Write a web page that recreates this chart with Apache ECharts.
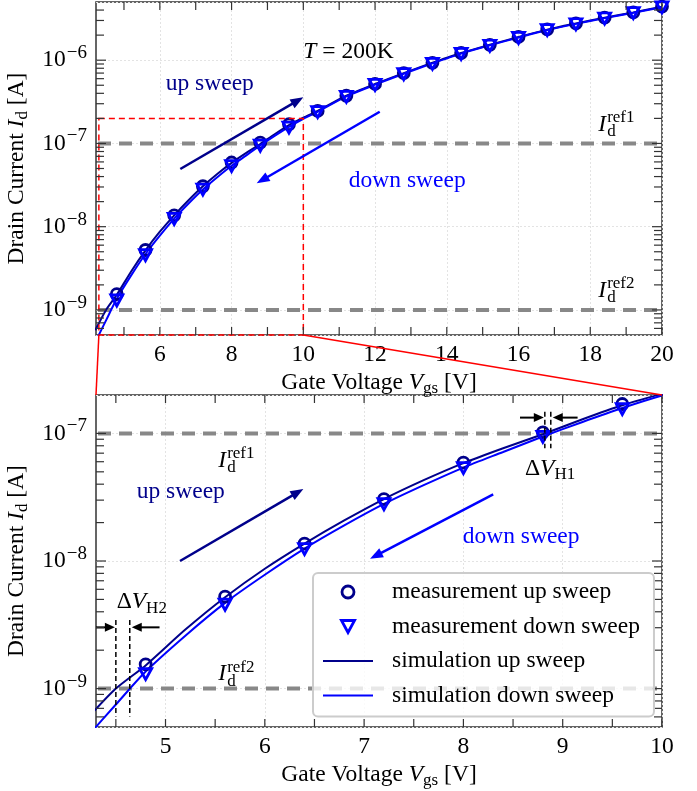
<!DOCTYPE html>
<html>
<head>
<meta charset="utf-8">
<script src="https://cdn.jsdelivr.net/npm/echarts@6/dist/echarts.min.js"></script>
<style>
  html, body { margin: 0; padding: 0; background: #ffffff; }
  #chart { width: 697px; height: 791px; }
</style>
</head>
<body>
<div id="chart"></div>
<script>
// Transfer characteristics at T = 200 K: up / down gate sweeps, measured and simulated.

// ---- data -------------------------------------------------------------
const vgsMeas = [4.8, 5.6, 6.4, 7.2, 8.0, 8.8, 9.6, 10.4, 11.2, 12.0, 12.8, 13.6, 14.4, 15.2, 16.0, 16.8, 17.6, 18.4, 19.2, 20.0];
const idMeasUp = [1.55e-9, 5.25e-9, 1.37e-8, 3.06e-8, 5.9e-8, 1.02e-7, 1.7e-7, 2.46e-7, 3.74e-7, 5.18e-7, 7.0e-7, 9.3e-7, 1.22e-6, 1.53e-6, 1.9e-6, 2.35e-6, 2.76e-6, 3.24e-6, 3.75e-6, 4.4e-6];
const idMeasDown = [1.3e-9, 4.55e-9, 1.24e-8, 2.79e-8, 5.35e-8, 9.4e-8, 1.55e-7, 2.38e-7, 3.63e-7, 5.05e-7, 6.8e-7, 9.05e-7, 1.19e-6, 1.49e-6, 1.85e-6, 2.3e-6, 2.7e-6, 3.17e-6, 3.68e-6, 4.32e-6];

const vgsSim = [4.2, 4.5, 4.8, 5.2, 5.6, 6.0, 6.4, 6.8, 7.2, 7.6, 8.0, 8.4, 8.8, 9.2, 9.6, 10.0, 10.4, 11.2, 12.0, 12.8, 13.6, 14.4, 15.2, 16.0, 16.8, 17.6, 18.4, 19.2, 20.0];
const idSimUp = [5.7e-10, 1.0e-9, 1.52e-9, 2.9e-9, 5.2e-9, 8.7e-9, 1.37e-8, 2.08e-8, 3.06e-8, 4.3e-8, 5.85e-8, 7.65e-8, 9.85e-8, 1.29e-7, 1.66e-7, 2.04e-7, 2.46e-7, 3.74e-7, 5.18e-7, 7.0e-7, 9.3e-7, 1.22e-6, 1.53e-6, 1.9e-6, 2.33e-6, 2.76e-6, 3.24e-6, 3.75e-6, 4.38e-6];
const idSimDown = [4.1e-10, 7.5e-10, 1.36e-9, 2.6e-9, 4.7e-9, 7.8e-9, 1.25e-8, 1.9e-8, 2.8e-8, 3.93e-8, 5.4e-8, 7.15e-8, 9.46e-8, 1.23e-7, 1.58e-7, 1.98e-7, 2.4e-7, 3.67e-7, 5.08e-7, 6.88e-7, 9.15e-7, 1.2e-6, 1.51e-6, 1.87e-6, 2.3e-6, 2.73e-6, 3.2e-6, 3.71e-6, 4.33e-6];

// reference current levels I_d^ref1, I_d^ref2
const refLevels = [1e-7, 1e-9];

// zoom window shown in the lower panel
const zoomVgs = [4.3, 10];
const zoomId = [5e-10, 2e-7];

// threshold shifts read at the two reference levels
const dVH1 = [8.82, 8.88];
const dVH2 = [4.50, 4.64];

// tick values
const xLabelsTop = [6, 8, 10, 12, 14, 16, 18, 20];
const xMinorTop = [5, 7, 9, 11, 13, 15, 17, 19];
const xLabelsBottom = [5, 6, 7, 8, 9, 10];
const xMinorBottom = [4.5, 5.5, 6.5, 7.5, 8.5, 9.5];
const yDecades = [1e-9, 1e-8, 1e-7, 1e-6];

const seriesNames = ['measurement up sweep', 'measurement down sweep', 'simulation up sweep', 'simulation down sweep'];

// ---- style --------------------------------------------------------------
const NAVY = '#00008b';
const BLUE = '#0000ff';
const GREY = '#888888';
const RED = '#ff0000';
const FRAME = '#333333';
const SERIF = '"Liberation Serif", "Times New Roman", serif';
const FS = 23.5;
const FS_S = 17;
const FS_SUP = 19;
const TRI_DOWN = 'path://M0,0 L12,0 L6,11 Z';

const X_TOP = [4.22, 20];
const Y_TOP = [5e-10, 5e-6];
const X_BOT = zoomVgs;
const Y_BOT = zoomId;

function zip(xs, ys) { return xs.map((x, i) => [x, ys[i]]); }

function minorLog(lo, hi) {
  const out = [];
  for (let e = Math.floor(Math.log10(lo)); e <= Math.ceil(Math.log10(hi)); e++) {
    for (let m = 2; m <= 9; m++) {
      const v = m * Math.pow(10, e);
      if (v > lo * 1.0001 && v < hi * 0.9999) out.push(v);
    }
  }
  return out;
}

const richBase = { fontFamily: SERIF, fontSize: FS, color: '#000' };
const richSet = {
  b: { fontFamily: SERIF, fontSize: FS, lineHeight: FS, color: '#000' },
  i: { fontFamily: SERIF, fontSize: FS, lineHeight: FS, fontStyle: 'italic', color: '#000' },
  sup: { fontFamily: SERIF, fontSize: FS_SUP, lineHeight: FS_SUP, padding: [0, 0, 14, 1], color: '#000' },
  sub: { fontFamily: SERIF, fontSize: FS_S, lineHeight: FS_S, padding: [12, 0, 0, 0], color: '#000' }
};

function yLabel(v) {
  const e = Math.log10(v);
  if (Math.abs(e - Math.round(e)) > 1e-6) return '';
  return '{b|10}{sup|\u2212' + Math.abs(Math.round(e)) + '}';
}

function xAxisCfg(gridIndex, range, labels) {
  return {
    type: 'value', gridIndex, min: range[0], max: range[1],
    axisLine: { show: false },
    axisTick: { show: false, customValues: labels },
    axisLabel: { customValues: labels, margin: 8, fontFamily: SERIF, fontSize: FS, color: '#000',
      formatter: v => (Math.abs(v - Math.round(v)) < 1e-6 ? String(Math.round(v)) : '') },
    splitLine: { show: true, lineStyle: { color: '#e3e3e3', width: 1, type: [2, 2] } },
    name: 'Gate Voltage {i|V}{sub|gs} [V]', nameLocation: 'middle', nameGap: 30,
    nameTextStyle: Object.assign({ rich: richSet }, richBase)
  };
}

function yAxisCfg(gridIndex, range) {
  return {
    type: 'log', logBase: 10, gridIndex, min: range[0], max: range[1],
    axisLine: { show: false },
    axisTick: { show: false },
    axisLabel: { margin: 9, formatter: yLabel, rich: richSet },
    splitLine: { show: true, lineStyle: { color: '#e3e3e3', width: 1, type: [2, 2] } },
    minorTick: { show: false },
    name: 'Drain Current {i|I}{sub|d} [A]', nameLocation: 'middle', nameGap: 52,
    nameTextStyle: Object.assign({ rich: richSet }, richBase)
  };
}

// ticks on all four sides of a panel, pointing inward
function tickSeries(g, xr, yr, xMajor, xMinor) {
  const data = [];
  xMajor.concat(xMinor).forEach(v => data.push([v, yr[0], 0, 8]));
  yDecades.filter(v => v > yr[0] && v < yr[1]).forEach(v => data.push([xr[0], v, 1, 10]));
  minorLog(yr[0], yr[1]).forEach(v => data.push([xr[0], v, 1, 8]));
  return {
    type: 'custom', xAxisIndex: g, yAxisIndex: g, clip: false, silent: true, z: 8,
    encode: { x: 0, y: 1 }, data,
    renderItem(params, api) {
      const cs = params.coordSys;
      const p = api.coord([api.value(0), api.value(1)]);
      const len = api.value(3);
      const st = { stroke: FRAME, lineWidth: 1.2 };
      if (api.value(2) === 0) {
        return { type: 'group', children: [
          { type: 'line', shape: { x1: p[0], y1: cs.y + cs.height, x2: p[0], y2: cs.y + cs.height - len }, style: st },
          { type: 'line', shape: { x1: p[0], y1: cs.y, x2: p[0], y2: cs.y + len }, style: st }
        ] };
      }
      return { type: 'group', children: [
        { type: 'line', shape: { x1: cs.x, y1: p[1], x2: cs.x + len, y2: p[1] }, style: st },
        { type: 'line', shape: { x1: cs.x + cs.width, y1: p[1], x2: cs.x + cs.width - len, y2: p[1] }, style: st }
      ] };
    }
  };
}

// dashed grey reference levels
function refSeries(g, xr) {
  return {
    type: 'custom', xAxisIndex: g, yAxisIndex: g, clip: false, silent: true, z: 1,
    encode: { x: 0, y: 1 },
    data: refLevels.map(v => [xr[0], v, xr[1]]),
    renderItem(params, api) {
      const a = api.coord([api.value(0), api.value(1)]);
      const b = api.coord([api.value(2), api.value(1)]);
      return { type: 'line', shape: { x1: a[0] + 2, y1: a[1], x2: b[0], y2: b[1] },
        style: { stroke: GREY, lineWidth: 4, lineDash: [13, 8] } };
    }
  };
}

function arrowEl(p0, p1, color, width, headLen, headHalf) {
  const dx = p1[0] - p0[0], dy = p1[1] - p0[1];
  const L = Math.hypot(dx, dy), ux = dx / L, uy = dy / L;
  const bx = p1[0] - ux * headLen, by = p1[1] - uy * headLen;
  return { type: 'group', children: [
    { type: 'line', shape: { x1: p0[0], y1: p0[1], x2: bx + ux * 2, y2: by + uy * 2 }, style: { stroke: color, lineWidth: width } },
    { type: 'polygon', shape: { points: [[p1[0], p1[1]], [bx - uy * headHalf, by + ux * headHalf], [bx + uy * headHalf, by - ux * headHalf]] },
      style: { fill: color } }
  ] };
}

// arrows: [x0, y0, x1, y1] in data units, with a style per arrow
function arrowSeries(g, items, styles) {
  return {
    type: 'custom', xAxisIndex: g, yAxisIndex: g, clip: false, silent: true, z: 6,
    encode: { x: [0, 2], y: [1, 3] }, data: items,
    renderItem(params, api) {
      const s = styles[params.dataIndex];
      const a = api.coord([api.value(0), api.value(1)]);
      const b = api.coord([api.value(2), api.value(3)]);
      return arrowEl(a, b, s.color, s.width, s.head, s.half);
    }
  };
}

// black dashed vertical markers: [x, y0, y1]
function vDashSeries(g, items) {
  return {
    type: 'custom', xAxisIndex: g, yAxisIndex: g, clip: false, silent: true, z: 6,
    encode: { x: 0, y: [1, 2] }, data: items,
    renderItem(params, api) {
      const a = api.coord([api.value(0), api.value(1)]);
      const b = api.coord([api.value(0), api.value(2)]);
      return { type: 'line', shape: { x1: a[0], y1: a[1], x2: b[0], y2: b[1] },
        style: { stroke: '#000', lineWidth: 1.5, lineDash: [5, 3] } };
    }
  };
}

// text labels anchored at [x, y] (left edge, vertical middle of the main glyphs)
function textSeries(g, items, texts) {
  return {
    type: 'custom', xAxisIndex: g, yAxisIndex: g, clip: false, silent: true, z: 7,
    encode: { x: 0, y: 1 }, data: items,
    renderItem(params, api) {
      const t = texts[params.dataIndex];
      const p = api.coord([api.value(0), api.value(1)]);
      if (t.kind === 'ref') {
        return { type: 'group', children: [
          { type: 'text', x: p[0], y: p[1], style: { text: 'I', fontFamily: SERIF, fontSize: FS, fontStyle: 'italic', fill: '#000', align: 'left', verticalAlign: 'middle' } },
          { type: 'text', x: p[0] + 9, y: p[1] - 7, style: { text: t.sup, fontFamily: SERIF, fontSize: FS_S, fill: '#000', align: 'left', verticalAlign: 'middle' } },
          { type: 'text', x: p[0] + 9, y: p[1] + 7, style: { text: 'd', fontFamily: SERIF, fontSize: FS_S, fill: '#000', align: 'left', verticalAlign: 'middle' } }
        ] };
      }
      return { type: 'text', x: p[0], y: p[1], style: {
        text: t.text, rich: {
          n: { fontFamily: SERIF, fontSize: FS, lineHeight: FS, fill: t.color },
          i: { fontFamily: SERIF, fontSize: FS, lineHeight: FS, fontStyle: 'italic', fill: t.color },
          sub: { fontFamily: SERIF, fontSize: FS_S, lineHeight: FS_S, padding: [12, 0, 0, 0], fill: t.color }
        },
        fontFamily: SERIF, fontSize: FS, fill: t.color, align: 'left', verticalAlign: 'middle' } };
    }
  };
}

// red dashed frame marking the zoom window in the upper panel
const zoomBoxSeries = {
  type: 'custom', xAxisIndex: 0, yAxisIndex: 0, clip: false, silent: true, z: 5,
  encode: { x: [0, 2], y: [1, 3] },
  data: [[zoomVgs[0], zoomId[0], zoomVgs[1], zoomId[1]]],
  renderItem(params, api) {
    const a = api.coord([api.value(0), api.value(1)]);
    const b = api.coord([api.value(2), api.value(3)]);
    return { type: 'rect', shape: { x: a[0], y: b[1], width: b[0] - a[0], height: a[1] - b[1] },
      style: { fill: 'none', stroke: RED, lineWidth: 1.5, lineDash: [6, 4] } };
  }
};

function dataSeries(g, maxV) {
  const keep = pts => pts.filter(p => p[0] <= maxV + 1e-9);
  return [
    { name: seriesNames[2], type: 'line', xAxisIndex: g, yAxisIndex: g, data: zip(vgsSim, idSimUp),
      showSymbol: false, symbol: 'none', smooth: 0.25, clip: true, z: 3,
      lineStyle: { color: NAVY, width: 2 }, itemStyle: { color: NAVY } },
    { name: seriesNames[3], type: 'line', xAxisIndex: g, yAxisIndex: g, data: zip(vgsSim, idSimDown),
      showSymbol: false, symbol: 'none', smooth: 0.25, clip: true, z: 3,
      lineStyle: { color: BLUE, width: 2 }, itemStyle: { color: BLUE } },
    { name: seriesNames[0], type: 'scatter', xAxisIndex: g, yAxisIndex: g, data: keep(zip(vgsMeas, idMeasUp)),
      symbol: 'circle', symbolSize: 11, z: 4,
      itemStyle: { color: 'rgba(0,0,0,0)', borderColor: NAVY, borderWidth: 2.8, opacity: 1 } },
    { name: seriesNames[1], type: 'scatter', xAxisIndex: g, yAxisIndex: g, data: keep(zip(vgsMeas, idMeasDown)),
      symbol: TRI_DOWN, symbolSize: [12, 11], z: 4,
      itemStyle: { color: 'rgba(0,0,0,0)', borderColor: BLUE, borderWidth: 2.8, opacity: 1 } }
  ];
}

const sweepUp = { color: NAVY, width: 2.5, head: 13, half: 5 };
const sweepDown = { color: BLUE, width: 2.5, head: 13, half: 5 };
const dim = { color: '#000', width: 2, head: 10, half: 4.5 };

const option = {
  animation: false,
  backgroundColor: '#ffffff',
  grid: [
    { left: 96, top: 2, width: 566, height: 333, show: true, borderColor: FRAME, borderWidth: 1.5,
      backgroundColor: 'transparent', containLabel: false, outerBoundsMode: 'none' },
    { left: 96, top: 395, width: 566, height: 332, show: true, borderColor: FRAME, borderWidth: 1.5,
      backgroundColor: 'transparent', containLabel: false, outerBoundsMode: 'none' }
  ],
  xAxis: [xAxisCfg(0, X_TOP, xLabelsTop), xAxisCfg(1, X_BOT, xLabelsBottom)],
  yAxis: [yAxisCfg(0, Y_TOP), yAxisCfg(1, Y_BOT)],
  legend: {
    data: [
      { name: seriesNames[0], icon: 'circle',
        itemStyle: { color: 'rgba(0,0,0,0)', borderColor: NAVY, borderWidth: 2.8, opacity: 1 } },
      { name: seriesNames[1], icon: TRI_DOWN,
        itemStyle: { color: 'rgba(0,0,0,0)', borderColor: BLUE, borderWidth: 2.8, opacity: 1 } },
      { name: seriesNames[2], itemStyle: { opacity: 0 }, lineStyle: { color: NAVY, width: 2 } },
      { name: seriesNames[3], itemStyle: { opacity: 0 }, lineStyle: { color: BLUE, width: 2 } }
    ],
    orient: 'vertical', left: 313, top: 573,
    itemWidth: 50, itemHeight: 12, itemGap: 10.5, symbolKeepAspect: true,
    padding: [7, 14, 9, 9],
    backgroundColor: 'rgba(255,255,255,0.8)', borderColor: '#cccccc', borderWidth: 2, borderRadius: 5,
    textStyle: { fontFamily: SERIF, fontSize: FS, color: '#000', padding: [0, 0, 0, 14] },
    selectedMode: false, z: 10
  },
  series: [
    refSeries(0, X_TOP), refSeries(1, X_BOT),
    ...dataSeries(0, X_TOP[1]), ...dataSeries(1, X_BOT[1]),
    zoomBoxSeries,
    tickSeries(0, X_TOP, Y_TOP, xLabelsTop, xMinorTop),
    tickSeries(1, X_BOT, Y_BOT, xLabelsBottom, xMinorBottom),
    arrowSeries(0, [[6.57, 4.93e-8, 10.0, 3.58e-7], [12.13, 2.4e-7, 8.70, 3.32e-8]], [sweepUp, sweepDown]),
    arrowSeries(1, [
      [5.146, 1.0e-8, 6.388, 3.66e-8], [8.30, 3.33e-8, 7.06, 1.04e-8],
      [8.57, 1.33e-7, dVH1[0] - 0.01, 1.33e-7], [9.15, 1.33e-7, dVH1[1] + 0.02, 1.33e-7],
      [X_BOT[0], 3.02e-9, dVH2[0] - 0.01, 3.02e-9], [4.94, 3.02e-9, dVH2[1] + 0.02, 3.02e-9]
    ], [sweepUp, sweepDown, dim, dim, dim, dim]),
    vDashSeries(1, [
      [dVH1[0], 1.48e-7, 7.64e-8], [dVH1[1], 1.48e-7, 7.64e-8],
      [dVH2[0], 3.45e-9, 6.03e-10], [dVH2[1], 3.45e-9, 6.03e-10]
    ]),
    textSeries(0, [[10.0, 1.27e-6], [6.164, 5.19e-7], [11.27, 3.59e-8], [18.22, 1.69e-7], [18.22, 1.70e-9]], [
      { text: '{i|T} = 200K', color: '#000' },
      { text: 'up sweep', color: NAVY },
      { text: 'down sweep', color: BLUE },
      { kind: 'ref', sup: 'ref1' },
      { kind: 'ref', sup: 'ref2' }
    ]),
    textSeries(1, [[4.71, 3.46e-8], [7.993, 1.54e-8], [5.53, 6.13e-8], [5.53, 1.3e-9], [8.62, 5.27e-8], [4.508, 4.75e-9]], [
      { text: 'up sweep', color: NAVY },
      { text: 'down sweep', color: BLUE },
      { kind: 'ref', sup: 'ref1' },
      { kind: 'ref', sup: 'ref2' },
      { text: '{n|\u0394}{i|V}{sub|H1}', color: '#000' },
      { text: '{n|\u0394}{i|V}{sub|H2}', color: '#000' }
    ])
  ]
};

const chart = echarts.init(document.getElementById('chart'), null, { renderer: 'canvas' });
chart.setOption(option);

// red connectors from the zoom window to the lower panel
const c0 = chart.convertToPixel({ gridIndex: 0 }, [zoomVgs[0], zoomId[0]]);
const c1 = chart.convertToPixel({ gridIndex: 0 }, [zoomVgs[1], zoomId[0]]);
const d0 = chart.convertToPixel({ gridIndex: 1 }, [X_BOT[0], Y_BOT[1]]);
const d1 = chart.convertToPixel({ gridIndex: 1 }, [X_BOT[1], Y_BOT[1]]);
chart.setOption({
  graphic: [
    { type: 'line', z: 20, silent: true, shape: { x1: c0[0], y1: c0[1], x2: d0[0], y2: d0[1] }, style: { stroke: RED, lineWidth: 1.5 } },
    { type: 'line', z: 20, silent: true, shape: { x1: c1[0], y1: c1[1], x2: d1[0], y2: d1[1] }, style: { stroke: RED, lineWidth: 1.5 } }
  ]
});
</script>
</body>
</html>
